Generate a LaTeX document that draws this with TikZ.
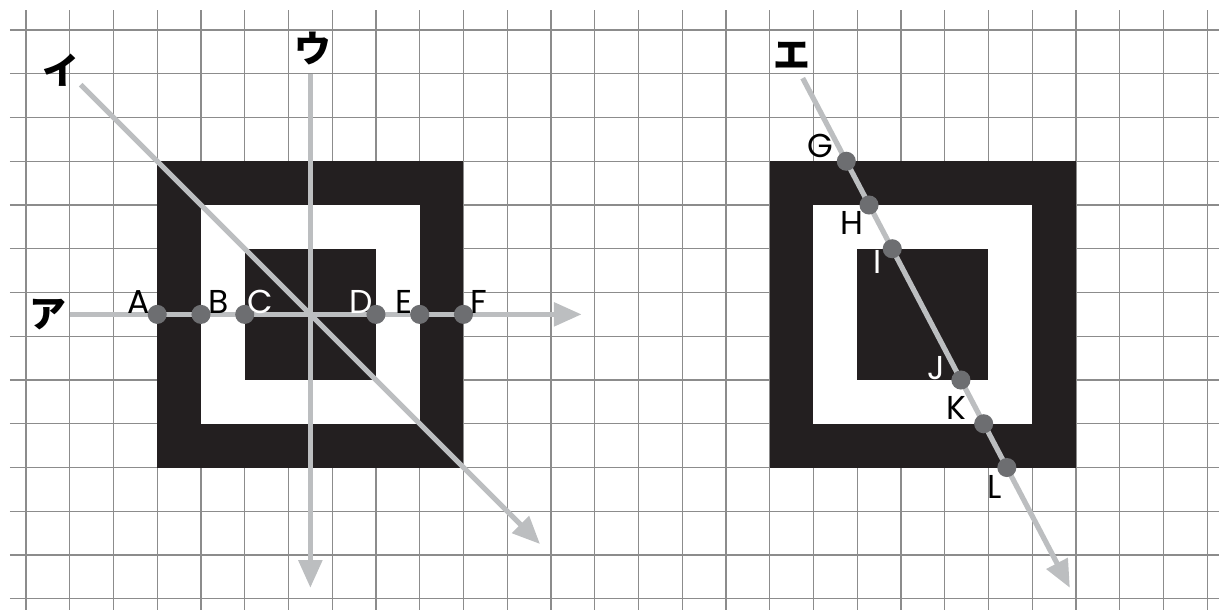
\documentclass[tikz,border=0pt]{standalone}
\usepackage{fontspec}
\setmainfont{Poppins}
\newfontfamily\kana{Noto Sans CJK JP}
\usepackage{tikz}
\usetikzlibrary{arrows.meta}

\definecolor{ink}{HTML}{231F20}
\definecolor{rayline}{HTML}{BCBEC0}
\definecolor{dotgray}{HTML}{6D6E71}
\definecolor{gridgray}{HTML}{8C8C8C}

\tikzset{
  ray/.style={draw=rayline, line width=3.4pt, -{Triangle[length=18pt,width=15pt]}},
  dot/.style={circle, fill=dotgray, inner sep=0pt, minimum size=12.4pt},
  lbl/.style={inner sep=0pt, font=\fontsize{21.5}{21.5}\selectfont},
  kanalbl/.style={inner sep=0pt, font=\kana\bfseries\fontsize{24}{24}\selectfont}
}

\begin{document}
\begin{tikzpicture}[x=1cm, y=-1cm]
  \newcommand{\ringbox}[2]
  {%
    \begin{scope}[shift={#1}]
      \fill[ink] (0, 0) rectangle (7, 7);
      \fill[white] (1, 1) rectangle (6, 6);
      \fill[ink] (2, 2) rectangle (5, 5);
    \end{scope}%
  }%
  \useasboundingbox (-0.594, -0.686) rectangle (27.269, 13.257);
  \foreach \i in {0,...,27}
    \draw[gridgray, line width=0.75pt] (\i, -0.457) -- (\i, 13.257);
  \foreach \j in {0,...,13}
    \draw[gridgray, line width=0.75pt] (-0.366, \j) -- (27.269, \j);
  \ringbox{(3, 3)}{left}
  \ringbox{(17, 3)}{right}
  \coordinate (a0) at (1, 6.5);
  \coordinate (a1) at (12.7, 6.5);
  \coordinate (i0) at (1.25, 1.25);
  \coordinate (i1) at (11.75, 11.75);
  \coordinate (u0) at (6.5, 1);
  \coordinate (u1) at (6.5, 12.75);
  \coordinate (e0) at (17.754, 1.1);
  \coordinate (e1) at (23.86, 12.75);
  \draw[ray] (a0) -- (a1);
  \draw[ray] (i0) -- (i1);
  \draw[ray] (u0) -- (u1);
  \draw[ray] (e0) -- (e1);
  \node[dot] (A) at (3, 6.5) {};
  \node[dot] (B) at (4, 6.5) {};
  \node[dot] (C) at (5, 6.5) {};
  \node[dot] (D) at (8, 6.5) {};
  \node[dot] (E) at (9, 6.5) {};
  \node[dot] (F) at (10, 6.5) {};
  \node[dot] (G) at (18.75, 3) {};
  \node[dot] (H) at (19.27, 4) {};
  \node[dot] (I) at (19.80, 5) {};
  \node[dot] (J) at (21.37, 8) {};
  \node[dot] (K) at (21.89, 9) {};
  \node[dot] (L) at (22.42, 10) {};
  \node[lbl] (lblA) at (2.57, 6.21) {A};
  \node[lbl] (lblB) at (4.40, 6.21) {B};
  \node[lbl, white] (lblC) at (5.35, 6.21) {C};
  \node[lbl, white] (lblD) at (7.67, 6.21) {D};
  \node[lbl] (lblE) at (8.64, 6.21) {E};
  \node[lbl] (lblF) at (10.36, 6.21) {F};
  \node[lbl] (lblG) at (18.15, 2.65) {G};
  \node[lbl] (lblH) at (18.87, 4.42) {H};
  \node[lbl, white] (lblI) at (19.47, 5.30) {I};
  \node[lbl, white] (lblJ) at (20.80, 7.72) {J};
  \node[lbl] (lblK) at (21.27, 8.65) {K};
  \node[lbl] (lblL) at (22.13, 10.44) {L};
  \node[kanalbl] (kanaA) at (0.51, 6.5) {ア};
  \node[kanalbl] (kanaI) at (0.80, 0.91) {イ};
  \node[kanalbl] (kanaU) at (6.56, 0.43) {ウ};
  \node[kanalbl] (kanaE) at (17.51, 0.57) {エ};
\end{tikzpicture}
\end{document}
